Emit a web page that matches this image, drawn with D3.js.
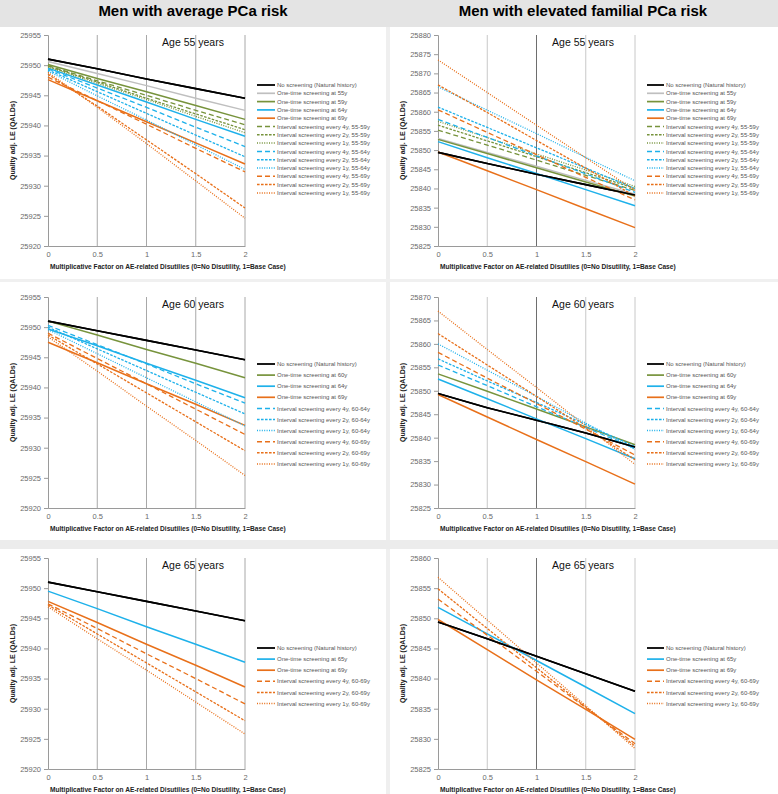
<!DOCTYPE html>
<html><head><meta charset="utf-8">
<script src="https://cdn.jsdelivr.net/npm/d3@7"></script>
<style>body{margin:0;background:#fff}svg{display:block}</style>
</head><body><svg id="c" width="778" height="794"></svg>
<script>
// ---------- DATA ----------
const xValues = [0, 0.5, 1, 1.5, 2];
const xTicks = [0, 0.5, 1, 1.5, 2];
const columnTitles = ["Men with average PCa risk", "Men with elevated familial PCa risk"];
const ageTitles = ["Age 55 years", "Age 60 years", "Age 65 years"];
const xAxisTitle = "Multiplicative Factor on AE-related Disutilies (0=No Disutility, 1=Base Case)";
const yAxisTitle = "Quality adj. LE (QALDs)";

const yTicksAvg = [25920, 25925, 25930, 25935, 25940, 25945, 25950, 25955];
const yTicksElev55 = [25825, 25830, 25835, 25840, 25845, 25850, 25855, 25860, 25865, 25870, 25875, 25880];
const yTicksElev60 = [25825, 25830, 25835, 25840, 25845, 25850, 25855, 25860, 25865, 25870];
const yTicksElev65 = [25825, 25830, 25835, 25840, 25845, 25850, 25855, 25860];

const names55 = [
  "No screening (Natural history)",
  "One-time screening at 55y",
  "One-time screening at 59y",
  "One-time screening at 64y",
  "One-time screening at 69y",
  "Interval screening every 4y, 55-59y",
  "Interval screening every 2y, 55-59y",
  "Interval screening every 1y, 55-59y",
  "Interval screening every 4y, 55-64y",
  "Interval screening every 2y, 55-64y",
  "Interval screening every 1y, 55-64y",
  "Interval screening every 4y, 55-69y",
  "Interval screening every 2y, 55-69y",
  "Interval screening every 1y, 55-69y"
];
const names60 = [
  "No screening (Natural history)",
  "One-time screening at 60y",
  "One-time screening at 64y",
  "One-time screening at 69y",
  "Interval screening every 4y, 60-64y",
  "Interval screening every 2y, 60-64y",
  "Interval screening every 1y, 60-64y",
  "Interval screening every 4y, 60-69y",
  "Interval screening every 2y, 60-69y",
  "Interval screening every 1y, 60-69y"
];
const names65 = [
  "No screening (Natural history)",
  "One-time screening at 65y",
  "One-time screening at 69y",
  "Interval screening every 4y, 60-69y",
  "Interval screening every 2y, 60-69y",
  "Interval screening every 1y, 60-69y"
];

// rows follow the order of names55
const avg55 = [
  [25951.0, 25949.4, 25947.7, 25946.1, 25944.5],
  [25950.6, 25948.6, 25946.6, 25944.5, 25942.5],
  [25950.1, 25947.8, 25945.6, 25943.3, 25941.0],
  [25949.5, 25946.7, 25943.9, 25941.0, 25938.2],
  [25947.6, 25944.1, 25940.6, 25937.1, 25933.6],
  [25949.9, 25947.4, 25945.0, 25942.5, 25940.1],
  [25949.8, 25947.2, 25944.5, 25941.9, 25939.3],
  [25949.7, 25947.0, 25944.3, 25941.5, 25938.8],
  [25949.4, 25946.2, 25943.0, 25939.7, 25936.5],
  [25949.2, 25945.6, 25942.0, 25938.4, 25934.8],
  [25949.0, 25944.9, 25940.9, 25936.8, 25932.7],
  [25948.0, 25944.1, 25940.2, 25936.2, 25932.3],
  [25948.5, 25943.2, 25937.6, 25932.0, 25926.3],
  [25948.8, 25943.0, 25937.0, 25930.8, 25924.6]
];
const elev55 = [
  [25849.4, 25846.5, 25843.7, 25841.0, 25838.3],
  [25853.0, 25849.4, 25845.8, 25842.1, 25838.5],
  [25852.8, 25849.1, 25845.4, 25841.7, 25838.0],
  [25852.2, 25848.0, 25843.9, 25839.7, 25835.5],
  [25849.5, 25844.6, 25839.7, 25834.7, 25829.8],
  [25855.2, 25851.3, 25847.4, 25843.4, 25839.5],
  [25856.5, 25852.4, 25848.3, 25844.1, 25840.0],
  [25857.5, 25853.3, 25849.0, 25844.8, 25840.5],
  [25858.0, 25853.3, 25848.5, 25843.8, 25839.0],
  [25861.2, 25855.9, 25850.6, 25845.3, 25840.0],
  [25866.5, 25860.4, 25854.3, 25848.1, 25842.0],
  [25860.5, 25854.6, 25848.8, 25842.9, 25837.0],
  [25867.0, 25859.8, 25852.5, 25845.3, 25838.0],
  [25873.5, 25865.0, 25856.5, 25848.0, 25839.5]
];
const avg60 = [
  [25951.0, 25949.4, 25947.8, 25946.2, 25944.6],
  [25951.0, 25948.7, 25946.3, 25944.0, 25941.6],
  [25949.7, 25946.9, 25944.0, 25941.2, 25938.3],
  [25947.5, 25944.1, 25940.6, 25937.2, 25933.7],
  [25950.3, 25947.1, 25943.9, 25940.6, 25937.4],
  [25950.0, 25946.4, 25942.8, 25939.2, 25935.6],
  [25949.6, 25945.6, 25941.6, 25937.6, 25933.6],
  [25949.0, 25944.8, 25940.6, 25936.4, 25932.2],
  [25948.7, 25943.9, 25939.1, 25934.3, 25929.5],
  [25948.4, 25942.7, 25936.9, 25931.2, 25925.4]
];
const elev60 = [
  [25849.4, 25846.4, 25843.7, 25841.0, 25838.0],
  [25853.6, 25849.9, 25846.1, 25842.3, 25838.5],
  [25852.5, 25848.3, 25844.0, 25839.8, 25835.5],
  [25849.2, 25844.4, 25839.6, 25834.9, 25830.1],
  [25855.5, 25851.1, 25846.6, 25842.2, 25837.7],
  [25856.8, 25852.1, 25847.5, 25842.8, 25838.1],
  [25860.0, 25854.4, 25848.8, 25843.1, 25837.5],
  [25858.2, 25852.7, 25847.3, 25841.8, 25836.3],
  [25862.2, 25855.5, 25848.8, 25842.0, 25835.3],
  [25867.0, 25858.8, 25850.7, 25842.5, 25834.3]
];
const avg65 = [
  [25951.0, 25949.4, 25947.8, 25946.2, 25944.6],
  [25949.5, 25946.6, 25943.6, 25940.7, 25937.7],
  [25947.8, 25944.3, 25940.7, 25937.2, 25933.6],
  [25947.4, 25943.3, 25939.1, 25935.0, 25930.8],
  [25947.2, 25942.4, 25937.6, 25932.8, 25928.0],
  [25946.9, 25941.6, 25936.4, 25931.1, 25925.8]
];
const elev65 = [
  [25849.4, 25846.6, 25843.7, 25840.8, 25837.9],
  [25851.8, 25847.4, 25843.0, 25838.6, 25834.2],
  [25849.8, 25844.8, 25839.8, 25834.9, 25829.9],
  [25853.2, 25847.2, 25841.2, 25835.2, 25829.2],
  [25854.9, 25848.3, 25841.8, 25835.3, 25828.8],
  [25856.8, 25849.7, 25842.6, 25835.5, 25828.4]
];

// ---------- STYLE ----------
const COLORS = {black: "#000000", gray: "#bfbfbf", green: "#77933c", blue: "#1eb1ea", orange: "#e8701a"};
function styleFor(name) {
  if (name.startsWith("No screening")) return {color: COLORS.black, dash: null, w: 1.6};
  let m = name.match(/at (\d+)y/);
  const ageColor = a => a <= 55 ? COLORS.gray : a <= 60 ? COLORS.green : a <= 65 ? COLORS.blue : COLORS.orange;
  if (m) return {color: ageColor(+m[1]), dash: null, w: 1.5};
  m = name.match(/every (\d)y, \d+-(\d+)y/);
  const end = +m[2];
  const c = end === 59 ? COLORS.green : end === 64 ? COLORS.blue : COLORS.orange;
  const dash = m[1] === "4" ? "5,3" : m[1] === "2" ? "2.6,1.4" : "1,1.4";
  return {color: c, dash, w: 1.3};
}

// ---------- LAYOUT ----------
const cols = [
  {x0: 48, x1: 245, legLine: [257, 275], legText: 277, yLab: 13, center: 193},
  {x0: 438, x1: 635, legLine: [647, 664], legText: 666, yLab: 403, center: 583}
];
const rows = [
  {y0: 35, y1: 246, legY: 85, legStep: 8.3},
  {y0: 297, y1: 508, legY: 364, legStep: 11.1},
  {y0: 558, y1: 769, legY: 648, legStep: 11.1}
];
const panels = [
  {c: 0, r: 0, names: names55, vals: avg55, ticks: yTicksAvg},
  {c: 1, r: 0, names: names55, vals: elev55, ticks: yTicksElev55},
  {c: 0, r: 1, names: names60, vals: avg60, ticks: yTicksAvg},
  {c: 1, r: 1, names: names60, vals: elev60, ticks: yTicksElev60},
  {c: 0, r: 2, names: names65, vals: avg65, ticks: yTicksAvg},
  {c: 1, r: 2, names: names65, vals: elev65, ticks: yTicksElev65}
];

const svg = d3.select("#c");
const FONT = "'Liberation Sans', Arial, sans-serif";
svg.append("rect").attr("width", 778).attr("height", 794).attr("fill", "#ffffff");
svg.append("rect").attr("x", 0).attr("y", 0).attr("width", 778).attr("height", 27).attr("fill", "#e4e4e4");
svg.append("rect").attr("x", 386).attr("y", 27).attr("width", 4).attr("height", 767).attr("fill", "#efefef");
svg.append("rect").attr("x", 0).attr("y", 279).attr("width", 778).attr("height", 3).attr("fill", "#f0f0f0");
svg.append("rect").attr("x", 0).attr("y", 540).attr("width", 778).attr("height", 9).attr("fill", "#ececec");

columnTitles.forEach((t, i) => {
  svg.append("text").attr("x", cols[i].center).attr("y", 16).attr("text-anchor", "middle")
    .attr("font-family", FONT).attr("font-weight", "bold").attr("font-size", 15).attr("fill", "#000").text(t);
});

panels.forEach(p => {
  const C = cols[p.c], R = rows[p.r];
  const g = svg.append("g");
  const x = d3.scaleLinear().domain([0, 2]).range([C.x0, C.x1]);
  const y = d3.scaleLinear().domain(d3.extent(p.ticks)).range([R.y1, R.y0]);

  g.selectAll(".vg").data(xTicks.filter(d => d > 0)).join("line")
    .attr("x1", d => x(d)).attr("x2", d => x(d)).attr("y1", R.y0).attr("y2", R.y1)
    .attr("stroke", d => p.c === 1 && d === 1 ? "#6e6e6e" : (p.c === 1 ? "#c8c8c8" : "#a8a8a8"))
    .attr("stroke-width", 1);

  const ya = d3.axisLeft(y).tickValues(p.ticks).tickSize(4).tickPadding(3).tickFormat(d3.format("d"));
  const yg = g.append("g").attr("transform", `translate(${C.x0},0)`).call(ya);
  yg.select(".domain").attr("stroke", "#9a9a9a");
  yg.selectAll(".tick line").attr("stroke", "#9a9a9a");
  yg.selectAll("text").attr("font-family", FONT).attr("font-size", 7.5).attr("fill", "#6a6a6a");

  const xa = d3.axisBottom(x).tickValues(xTicks).tickSize(0).tickPadding(6).tickFormat(d => d);
  const xg = g.append("g").attr("transform", `translate(0,${R.y1})`).call(xa);
  xg.select(".domain").attr("stroke", "#9a9a9a");
  xg.selectAll("text").attr("font-family", FONT).attr("font-size", 7.5).attr("fill", "#6a6a6a");

  g.append("text").attr("x", C.center).attr("y", R.y0 + 11).attr("text-anchor", "middle")
    .attr("font-family", FONT).attr("font-size", 10.5).attr("fill", "#111").text(ageTitles[p.r]);
  g.append("text").attr("x", C.x0 + 2).attr("y", R.y1 + 23)
    .attr("font-family", FONT).attr("font-weight", "bold").attr("font-size", 6.6).attr("fill", "#222").text(xAxisTitle);
  g.append("text").attr("transform", `translate(${C.yLab + 2},${(R.y0 + R.y1) / 2}) rotate(-90)`)
    .attr("text-anchor", "middle").attr("font-family", FONT).attr("font-weight", "bold")
    .attr("font-size", 7).attr("fill", "#222").text(yAxisTitle);

  const line = d3.line().x((d, i) => x(xValues[i])).y(d => y(d));
  p.vals.forEach((vals, i) => {
    const s = styleFor(p.names[i]);
    g.append("path").datum(vals).attr("d", line).attr("fill", "none")
      .attr("stroke", s.color).attr("stroke-width", s.w)
      .attr("stroke-dasharray", s.dash);
  });
  {
    const s = styleFor(p.names[0]);
    g.append("path").datum(p.vals[0]).attr("d", line).attr("fill", "none")
      .attr("stroke", s.color).attr("stroke-width", s.w);
  }

  p.names.forEach((n, i) => {
    const s = styleFor(n);
    const ly = R.legY + i * R.legStep;
    g.append("line").attr("x1", C.legLine[0]).attr("x2", C.legLine[1]).attr("y1", ly).attr("y2", ly)
      .attr("stroke", s.color).attr("stroke-width", s.w + 0.2).attr("stroke-dasharray", s.dash);
    g.append("text").attr("x", C.legText).attr("y", ly + 2.1)
      .attr("font-family", FONT).attr("font-size", 6).attr("fill", "#555").text(n);
  });
});
</script></body></html>
